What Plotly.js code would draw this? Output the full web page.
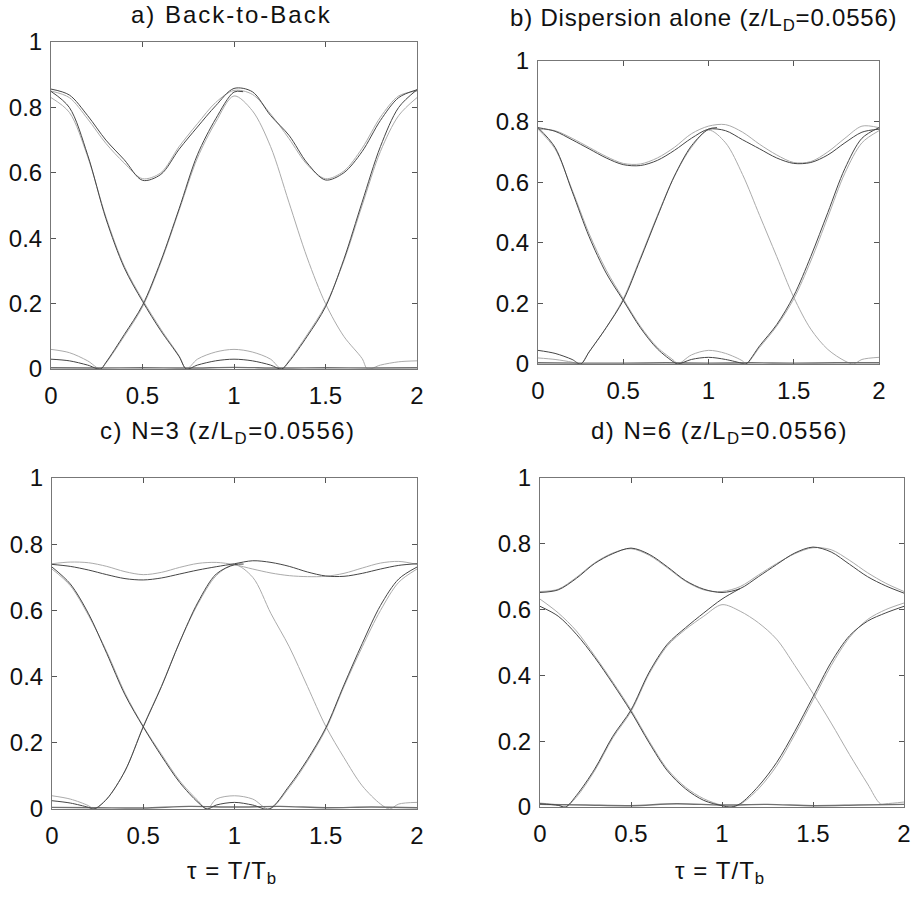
<!DOCTYPE html>
<html>
<head>
<meta charset="utf-8">
<script src="https://cdn.plot.ly/plotly-3.0.1.min.js"></script>
<style>html,body{margin:0;padding:0;background:#fff;}#chart{width:916px;height:899px;}</style>
</head>
<body>
<div id="chart"></div>
<script>
// ---------- data ----------
const tauStep = [0,0.1,0.2,0.3,0.4,0.5,0.6,0.7,0.8,0.9,1.0,1.1,1.2,1.3,1.4,1.5,1.6,1.7,1.8,1.9,2.0];
const xTicks = [0,0.5,1,1.5,2];
const xTickText = ["0","0.5","1","1.5","2"];
const yTicks = [0,0.2,0.4,0.6,0.8,1];
const yTickText = ["0","0.2","0.4","0.6","0.8","1"];

// a) Back-to-Back
const aEnvDark  = [0.856,0.838,0.775,0.70,0.64,0.577,0.595,0.672,0.74,0.805,0.858,0.848,0.775,0.715,0.63,0.578,0.60,0.665,0.76,0.83,0.854];
const aEnvLight = [0.85,0.83,0.765,0.69,0.63,0.582,0.60,0.68,0.75,0.815,0.852,0.84,0.78,0.705,0.625,0.582,0.605,0.675,0.77,0.835,0.85];
const aP1x      = [0,0.1,0.2,0.3,0.4,0.5,0.6,0.7,0.74,0.8,0.9,1.0,1.1,1.2,1.26,1.3,1.4,1.5,1.6,1.7,1.8,1.9,2.0];
const aP1Dark   = [0.849,0.80,0.655,0.46,0.31,0.207,0.117,0.038,0.0,0.012,0.025,0.03,0.025,0.012,0.0,0.022,0.10,0.19,0.335,0.51,0.68,0.80,0.854];
const aP1Light  = [0.83,0.785,0.65,0.465,0.315,0.212,0.122,0.04,0.0,0.03,0.052,0.06,0.052,0.03,0.0,0.025,0.105,0.195,0.33,0.50,0.665,0.775,0.83];
const aP2DarkX  = [0,0.1,0.2,0.27,0.3,0.4,0.5,0.6,0.7,0.8,0.9,1.0,1.05];
const aP2Dark   = [0.03,0.025,0.012,0.0,0.02,0.105,0.195,0.33,0.49,0.655,0.765,0.847,0.848];
const aP2LightX = [0,0.1,0.2,0.27,0.3,0.4,0.5,0.6,0.7,0.8,0.9,1.0,1.1,1.2,1.3,1.4,1.5,1.6,1.7,1.73,1.8,1.9,2.0];
const aP2Light  = [0.06,0.05,0.025,0.0,0.018,0.10,0.19,0.325,0.485,0.645,0.755,0.835,0.79,0.68,0.51,0.34,0.20,0.10,0.032,0.0,0.012,0.022,0.025];
const baseX     = [0,0.25,0.5,0.75,1,1.25,1.5,1.75,2];
const aBase     = [0.004,0.003,0.004,0.003,0.005,0.003,0.004,0.003,0.004];

// b) Dispersion alone
const bEnvDark  = [0.78,0.768,0.74,0.71,0.68,0.658,0.655,0.672,0.705,0.745,0.775,0.77,0.74,0.71,0.68,0.662,0.665,0.69,0.73,0.765,0.775];
const bEnvLight = [0.775,0.77,0.745,0.715,0.685,0.662,0.66,0.68,0.715,0.76,0.785,0.79,0.765,0.725,0.69,0.665,0.668,0.70,0.745,0.785,0.78];
const bP1x      = [0,0.1,0.2,0.3,0.4,0.5,0.6,0.7,0.8,0.82,0.9,1.0,1.1,1.2,1.22,1.3,1.4,1.5,1.6,1.7,1.8,1.9,2.0];
const bP1Dark   = [0.78,0.715,0.57,0.42,0.30,0.21,0.12,0.05,0.005,0.0,0.015,0.022,0.015,0.002,0.0,0.06,0.13,0.225,0.355,0.50,0.645,0.745,0.78];
const bP1Light  = [0.775,0.71,0.575,0.43,0.31,0.215,0.125,0.055,0.01,0.0,0.03,0.045,0.035,0.01,0.0,0.055,0.125,0.215,0.34,0.485,0.63,0.73,0.77];
const bP2DarkX  = [0,0.1,0.2,0.25,0.3,0.4,0.5,0.6,0.7,0.8,0.9,1.0,1.05];
const bP2Dark   = [0.045,0.035,0.015,0.0,0.04,0.12,0.21,0.345,0.486,0.62,0.72,0.775,0.78];
const bP2LightX = [0,0.1,0.2,0.25,0.3,0.4,0.5,0.6,0.7,0.8,0.9,1.0,1.1,1.2,1.3,1.4,1.5,1.6,1.7,1.8,1.85,1.9,2.0];
const bP2Light  = [0.02,0.015,0.006,0.0,0.04,0.12,0.215,0.35,0.49,0.62,0.715,0.772,0.73,0.625,0.49,0.355,0.22,0.115,0.048,0.01,0.0,0.015,0.022];
const bBase     = [0.004,0.003,0.003,0.004,0.003,0.004,0.003,0.004,0.004];

// c) N=3
const cEnvDark  = [0.739,0.733,0.722,0.708,0.696,0.692,0.698,0.71,0.722,0.732,0.741,0.75,0.745,0.733,0.716,0.704,0.703,0.712,0.725,0.736,0.741];
const cEnvLight = [0.741,0.746,0.744,0.733,0.717,0.708,0.715,0.73,0.742,0.745,0.738,0.725,0.713,0.705,0.702,0.703,0.712,0.728,0.743,0.748,0.739];
const cP1x      = [0,0.1,0.2,0.3,0.4,0.5,0.6,0.7,0.8,0.85,0.9,1.0,1.1,1.19,1.3,1.4,1.5,1.6,1.7,1.8,1.9,2.0];
const cP1Dark   = [0.731,0.68,0.59,0.47,0.345,0.248,0.16,0.08,0.02,0.0,0.012,0.02,0.012,0.0,0.07,0.15,0.245,0.375,0.50,0.615,0.695,0.731];
const cP1Light  = [0.725,0.675,0.585,0.475,0.35,0.25,0.165,0.085,0.025,0.0,0.03,0.04,0.03,0.0,0.065,0.145,0.24,0.37,0.49,0.60,0.685,0.725];
const cP2DarkX  = [0,0.1,0.2,0.23,0.3,0.4,0.5,0.6,0.7,0.8,0.9,1.0,1.05];
const cP2Dark   = [0.025,0.018,0.005,0.0,0.03,0.115,0.248,0.37,0.505,0.625,0.71,0.738,0.74];
const cP2LightX = [0,0.1,0.2,0.23,0.3,0.4,0.5,0.6,0.7,0.8,0.9,1.0,1.1,1.2,1.3,1.4,1.5,1.6,1.7,1.8,1.85,1.9,2.0];
const cP2Light  = [0.04,0.03,0.01,0.0,0.03,0.115,0.25,0.372,0.505,0.62,0.705,0.738,0.70,0.59,0.49,0.37,0.25,0.155,0.07,0.015,0.0,0.015,0.02];
const cBase     = [0.005,0.004,0.003,0.008,0.006,0.008,0.004,0.006,0.004];

// d) N=6
const dEnvDark  = [0.652,0.66,0.695,0.74,0.77,0.787,0.768,0.73,0.688,0.662,0.652,0.664,0.70,0.737,0.772,0.79,0.775,0.738,0.70,0.672,0.65];
const dEnvLight = [0.655,0.662,0.698,0.742,0.772,0.785,0.765,0.727,0.686,0.66,0.655,0.67,0.705,0.74,0.77,0.788,0.782,0.75,0.712,0.68,0.655];
const dP1x      = [0,0.1,0.2,0.3,0.4,0.5,0.6,0.7,0.8,0.9,1.0,1.05,1.1,1.2,1.3,1.4,1.5,1.6,1.7,1.8,1.9,2.0];
const dP1Dark   = [0.61,0.58,0.525,0.455,0.375,0.29,0.195,0.11,0.055,0.02,0.004,0.0,0.01,0.063,0.135,0.23,0.335,0.44,0.52,0.565,0.59,0.61];
const dP1Light  = [0.632,0.59,0.535,0.46,0.38,0.295,0.20,0.115,0.06,0.025,0.005,0.0,0.008,0.055,0.125,0.22,0.325,0.43,0.515,0.57,0.60,0.62];
const dP2DarkX  = [0,0.1,0.14,0.2,0.3,0.4,0.5,0.6,0.7,0.8,0.9,1.0,1.1];
const dP2Dark   = [0.01,0.005,0.0,0.035,0.115,0.215,0.295,0.41,0.495,0.545,0.59,0.632,0.664];
const dP2LightX = [0,0.1,0.14,0.2,0.3,0.4,0.5,0.6,0.7,0.8,0.9,1.0,1.1,1.2,1.3,1.4,1.5,1.6,1.7,1.8,1.87,1.9,2.0];
const dP2Light  = [0.012,0.006,0.0,0.03,0.11,0.21,0.29,0.405,0.49,0.54,0.58,0.615,0.595,0.56,0.51,0.43,0.345,0.255,0.16,0.07,0.01,0.01,0.015];
const dBase     = [0.008,0.006,0.004,0.01,0.006,0.008,0.004,0.006,0.008];

// ---------- styling ----------
const DARK = '#454545', LIGHT = '#ababab', MID = '#707070';
const FONT = 'Liberation Sans, Arial, Helvetica, sans-serif';

function line(x, y, color, ax, w) {
  return {x: x, y: y, type: 'scatter', mode: 'lines', xaxis: 'x' + ax, yaxis: 'y' + ax,
          line: {color: color, width: w || 1, shape: 'spline', smoothing: 0.9},
          hoverinfo: 'skip', showlegend: false};
}

function panel(ax, env1, env2, p1x, p1d, p1l, p2dx, p2d, p2lx, p2l, base) {
  return [
    line(tauStep, env2, LIGHT, ax),
    line(p1x, p1l, LIGHT, ax),
    line(p2lx, p2l, LIGHT, ax),
    line(baseX, base, MID, ax, 1.4),
    line(tauStep, env1, DARK, ax),
    line(p1x, p1d, DARK, ax),
    line(p2dx, p2d, DARK, ax)
  ];
}

const traces = [].concat(
  panel('', aEnvDark, aEnvLight, aP1x, aP1Dark, aP1Light, aP2DarkX, aP2Dark, aP2LightX, aP2Light, aBase),
  panel('2', bEnvDark, bEnvLight, bP1x, bP1Dark, bP1Light, bP2DarkX, bP2Dark, bP2LightX, bP2Light, bBase),
  panel('3', cEnvDark, cEnvLight, cP1x, cP1Dark, cP1Light, cP2DarkX, cP2Dark, cP2LightX, cP2Light, cBase),
  panel('4', dEnvDark, dEnvLight, dP1x, dP1Dark, dP1Light, dP2DarkX, dP2Dark, dP2LightX, dP2Light, dBase)
);

const W = 916, H = 899;
function xdom(l, r) { return [l / W, r / W]; }
function ydom(b, t) { return [1 - b / H, 1 - t / H]; }

function xax(l, r, anchor) {
  return {domain: xdom(l, r), anchor: anchor, range: [0, 2], tickvals: xTicks, ticktext: xTickText,
          ticks: 'inside', ticklen: 5, tickwidth: 1, tickcolor: '#555', mirror: 'ticks',
          showline: true, linecolor: '#777', linewidth: 1, showgrid: false, zeroline: false,
          ticklabelstandoff: 5, fixedrange: true,
          tickfont: {family: FONT, size: 24, color: '#111'}};
}
function yax(b, t, anchor) {
  return {domain: ydom(b, t), anchor: anchor, range: [0, 1], tickvals: yTicks, ticktext: yTickText,
          ticks: 'inside', ticklen: 5, tickwidth: 1, tickcolor: '#555', mirror: 'ticks',
          showline: true, linecolor: '#777', linewidth: 1, showgrid: false, zeroline: false,
          ticklabelstandoff: 3, fixedrange: true,
          tickfont: {family: FONT, size: 24, color: '#111'}};
}

function ann(text, px, py, sp) {
  return {text: '<span style="letter-spacing:' + sp + 'px">' + text + '</span>', xref: 'paper', yref: 'paper',
          x: px / W, y: 1 - py / H, xanchor: 'center', yanchor: 'middle', showarrow: false,
          font: {family: FONT, size: 24, color: '#111'}};
}

const layout = {
  width: W, height: H, margin: {l: 0, r: 0, t: 0, b: 0},
  paper_bgcolor: '#fff', plot_bgcolor: '#fff', showlegend: false,
  xaxis: xax(51, 417, 'y'),   yaxis: yax(369, 42, 'x'),
  xaxis2: xax(538, 879, 'y2'), yaxis2: yax(364, 61, 'x2'),
  xaxis3: xax(52, 417, 'y3'), yaxis3: yax(809, 478, 'x3'),
  xaxis4: xax(540, 904, 'y4'), yaxis4: yax(807, 478, 'x4'),
  annotations: [
    ann('a) Back-to-Back', 232, 15, 2),
    ann('b) Dispersion alone (z/L<sub>D</sub>=0.0556)', 703, 20, 0.8),
    ann('c) N=3 (z/L<sub>D</sub>=0.0556)', 228, 433, 1.5),
    ann('d) N=6 (z/L<sub>D</sub>=0.0556)', 719, 433, 1.5),
    ann('τ = T/T<sub>b</sub>', 232, 872, 1),
    ann('τ = T/T<sub>b</sub>', 720, 872, 1)
  ]
};

Plotly.newPlot('chart', traces, layout, {staticPlot: true, displayModeBar: false});
</script>
</body>
</html>
